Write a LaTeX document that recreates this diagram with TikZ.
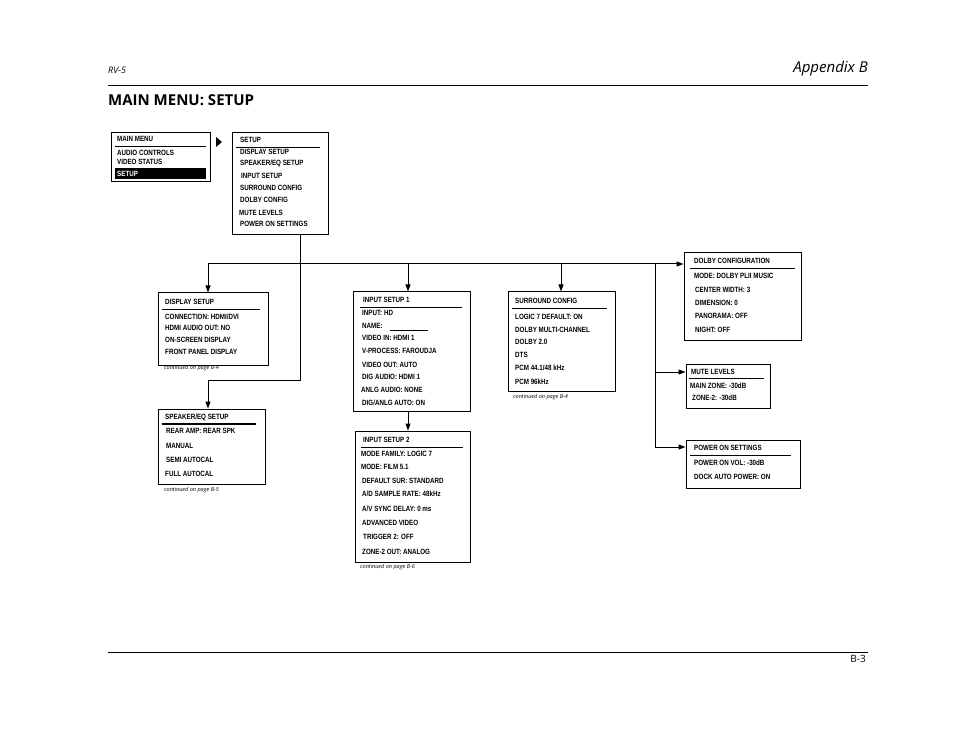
\documentclass[tikz,border=0pt]{standalone}
\usepackage{fontspec}
\setmainfont{Open Sans}
\newfontfamily\bx[FakeStretch=0.82]{Liberation Sans}
\usetikzlibrary{arrows.meta}
\newcount\tc
\newcommand\txl[3]{\global\advance\tc by 1 \node[txt] (t\the\tc) at (#1,#2) {#3};}
\newcommand\contx[3]{\global\advance\tc by 1 \node[cnt] (t\the\tc) at (#1,#2) {continued on page #3};}
\newcommand\menubox[5]{\node[box,minimum width=#4-#2,minimum height=#5-#3] (#1) at ({(#2+#4)/2},{(#3+#5)/2}) {};}
\tikzset{
 txt/.style={anchor=west,inner sep=0,font=\bx\bfseries\fontsize{7.6}{8}\selectfont},
 cnt/.style={anchor=west,inner sep=0,font=\itshape\fontsize{5.5}{6}\selectfont},
 box/.style={draw,line width=1pt,inner sep=0},
 rl/.style={line width=0.9pt},
 ln/.style={line width=1pt},
 arr/.style={line width=1pt,-{Triangle[length=7pt,width=5pt]}}
}
\begin{document}
\begin{tikzpicture}[x=1pt,y=-1pt]
\useasboundingbox (0,0) rectangle (954,738);
% header
\node[anchor=west,inner sep=0,font=\itshape\fontsize{9}{10}\selectfont] (rv) at (108,70) {RV-5};
\node[anchor=east,inner sep=0,font=\itshape\fontsize{15}{16}\selectfont] (ap) at (868,69) {Appendix B};
\draw[line width=0.6pt] (108,85) coordinate (h1) -- (868,85) coordinate (h2);
\node[anchor=west,inner sep=0,font=\bfseries\fontsize{15}{16}\selectfont] (ti) at (108,100) {MAIN MENU: SETUP};
\draw[line width=0.6pt] (108,652) coordinate (f1) -- (868,652) coordinate (f2);
\node[anchor=east,inner sep=0,font=\fontsize{10}{11}\selectfont] (pg) at (866,659) {B-3};
% main menu
\menubox{mm}{111}{133}{210}{182}
\txl{117}{139}{MAIN MENU}
\draw[rl] (115,146) -- (206,146);
\txl{117}{153}{AUDIO CONTROLS}
\txl{117}{162}{VIDEO STATUS}
\fill (115,168) rectangle (206,179);
\global\advance\tc by 1
\node[txt,text=white] (t\the\tc) at (117,173.5) {SETUP};
\fill (216,137) -- (222,142) -- (216,147) -- cycle;
% setup
\menubox{su}{232}{133}{328}{235}
\txl{240}{140}{SETUP}
\draw[rl] (236,147) -- (320,147);
\txl{240}{152}{DISPLAY SETUP}
\txl{240}{163}{SPEAKER/EQ SETUP}
\txl{241}{176}{INPUT SETUP}
\txl{240}{188}{SURROUND CONFIG}
\txl{240}{200}{DOLBY CONFIG}
\txl{239}{213}{MUTE LEVELS}
\txl{240}{224}{POWER ON SETTINGS}
% display setup
\menubox{ds}{158}{293}{268}{365}
\txl{165}{302}{DISPLAY SETUP}
\draw[rl] (162,309) -- (260,309);
\txl{165}{317}{CONNECTION: HDMI/DVI}
\txl{165}{328}{HDMI AUDIO OUT: NO}
\txl{165}{340}{ON-SCREEN DISPLAY}
\txl{165}{352}{FRONT PANEL DISPLAY}
\contx{164}{368}{B-4}
% speaker
\menubox{sp}{158}{409}{265}{484}
\txl{165}{417}{SPEAKER/EQ SETUP}
\draw[line width=1.6pt] (162,424) -- (256,424);
\txl{166}{431}{REAR AMP: REAR SPK}
\txl{166}{446}{MANUAL}
\txl{166}{460}{SEMI AUTOCAL}
\txl{165}{474}{FULL AUTOCAL}
\contx{164}{490}{B-5}
% input setup 1
\menubox{i1}{353}{292}{470}{411}
\txl{363}{300}{INPUT SETUP 1}
\draw[rl] (360,307) -- (462,307);
\txl{362}{313}{INPUT: HD}
\txl{362}{326}{NAME: }
\draw[line width=0.4pt] (390,330) -- (428,330);
\txl{362}{338}{VIDEO IN: HDMI 1}
\txl{362}{351}{V-PROCESS: FAROUDJA}
\txl{362}{365}{VIDEO OUT: AUTO}
\txl{362}{377}{DIG AUDIO: HDMI 1}
\txl{361}{390}{ANLG AUDIO: NONE}
\txl{362}{403}{DIG/ANLG AUTO: ON}
% input setup 2
\menubox{i2}{355}{431}{470}{562}
\txl{363}{440}{INPUT SETUP 2}
\draw[rl] (361,447) -- (463,447);
\txl{361}{454}{MODE FAMILY: LOGIC 7}
\txl{361}{467}{MODE: FILM 5.1}
\txl{362}{481}{DEFAULT SUR: STANDARD}
\txl{362}{494}{A/D SAMPLE RATE: 48kHz}
\txl{362}{509}{A/V SYNC DELAY: 0 ms}
\txl{362}{523}{ADVANCED VIDEO}
\txl{363}{537}{TRIGGER 2: OFF}
\txl{362}{552}{ZONE-2 OUT: ANALOG}
\contx{360}{567}{B-6}
% surround
\menubox{sc}{508}{292}{615}{391}
\txl{515}{301}{SURROUND CONFIG}
\draw[rl] (512,308) -- (607,308);
\txl{515}{317}{LOGIC 7 DEFAULT: ON}
\txl{515}{330}{DOLBY MULTI-CHANNEL}
\txl{515}{342}{DOLBY 2.0}
\txl{515}{355}{DTS}
\txl{515}{368}{PCM 44.1/48 kHz}
\txl{515}{382}{PCM 96kHz}
\contx{513}{397}{B-4}
% dolby
\menubox{dc}{684}{253}{801}{341}
\txl{694}{261}{DOLBY CONFIGURATION}
\draw[rl] (690,268) -- (795,268);
\txl{694}{276}{MODE: DOLBY PLII MUSIC}
\txl{695}{290}{CENTER WIDTH: 3}
\txl{695}{303}{DIMENSION: 0}
\txl{695}{316}{PANORAMA: OFF}
\txl{695}{330}{NIGHT: OFF}
% mute
\menubox{ml}{686}{364}{770}{408}
\txl{691}{372}{MUTE LEVELS}
\draw[rl] (689,378) -- (764,378);
\txl{690}{386}{MAIN ZONE: -30dB}
\txl{692}{398}{ZONE-2: -30dB}
% power
\menubox{po}{686}{440}{800}{488}
\txl{694}{448}{POWER ON SETTINGS}
\draw[rl] (690,455) -- (791,455);
\txl{694}{463}{POWER ON VOL: -30dB}
\txl{694}{477}{DOCK AUTO POWER: ON}
% connectors
\coordinate (bus) at (300,264);
\draw[ln] (su.south -| bus) -- (bus);
\draw[ln] (208,264) -- (655,264);
\draw[arr] (208,264) -- (ds.north -| 208,0);
\draw[ln] (bus) -- (300,380) -- (208,380);
\draw[arr] (208,380) -- (sp.north -| 208,0);
\draw[arr] (408,264) -- (i1.north -| 408,0);
\draw[arr] (i1.south -| 408,0) -- (i2.north -| 408,0);
\draw[arr] (561,264) -- (sc.north -| 561,0);
\draw[arr] (655,264) -- (dc.west |- 0,264);
\draw[ln] (655,264) -- (655,447);
\draw[arr] (655,372) -- (ml.west |- 0,372);
\draw[arr] (655,447) -- (po.west |- 0,447);
\end{tikzpicture}
\end{document}
